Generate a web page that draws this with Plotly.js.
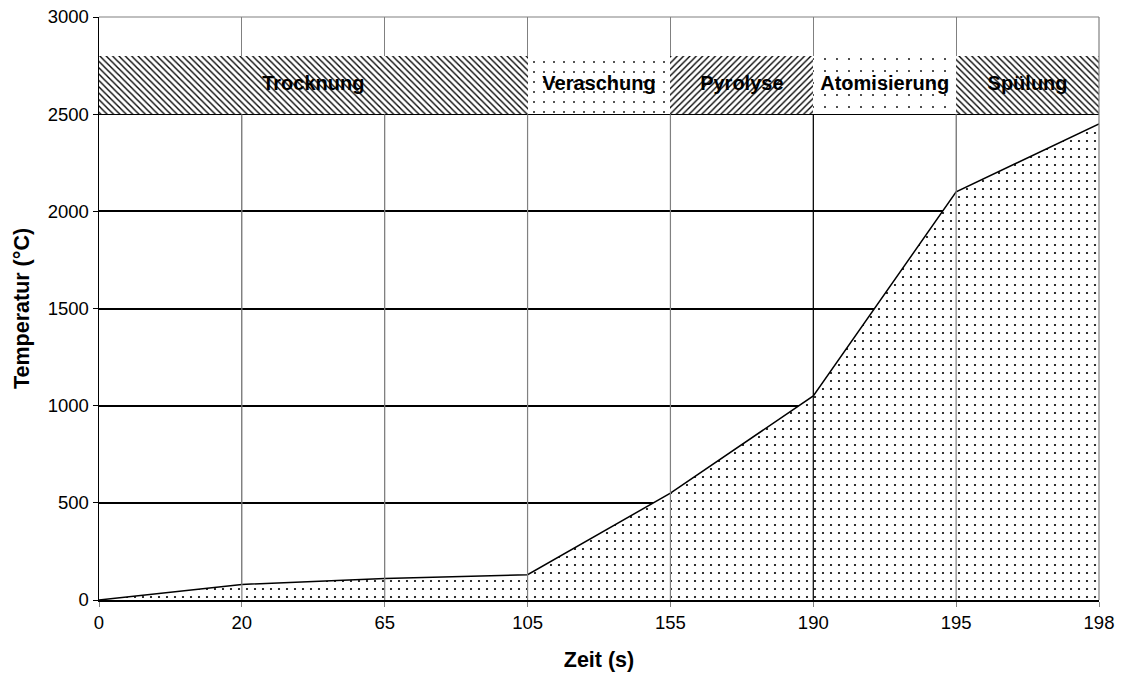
<!DOCTYPE html>
<html>
<head>
<meta charset="utf-8">
<script src="https://cdn.plot.ly/plotly-3.0.1.min.js"></script>
<style>
  html, body { margin: 0; padding: 0; background: #fff; }
  #chart { width: 1122px; height: 676px; }
</style>
</head>
<body>
<div id="chart"></div>
<script>
// Zeitpunkte des Temperaturprogramms (gleichabständige Kategorien)
const zeitLabels = ['0', '20', '65', '105', '155', '190', '195', '198'];
// Ofentemperatur in °C zu jedem Zeitpunkt
const temperatur = [0, 80, 110, 130, 550, 1050, 2100, 2450];

// Programmphasen: Name, erster und letzter Zeitpunkt (Index in zeitLabels)
const phasen = ['Trocknung', 'Veraschung', 'Pyrolyse', 'Atomisierung', 'Spülung'];
const phaseStart = [0, 3, 4, 5, 6];
const phaseEnde = [3, 4, 5, 6, 7];
const bandUnten = 2500;
const bandOben = 2800;

const idx = zeitLabels.map((_, i) => i);
const phaseMitte = phasen.map((_, i) => (phaseStart[i] + phaseEnde[i]) / 2);
const phaseBreite = phasen.map((_, i) => phaseEnde[i] - phaseStart[i]);

const fontFam = 'Arial, "Liberation Sans", Helvetica, sans-serif';

const temperaturKurve = {
  type: 'scatter',
  mode: 'lines',
  x: idx,
  y: temperatur,
  fill: 'tozeroy',
  fillcolor: '#ffffff',
  fillpattern: { shape: '.', fgcolor: '#000000', bgcolor: '#ffffff', size: 8, solidity: 0.06 },
  line: { color: '#000000', width: 1.5 },
  hoverinfo: 'skip',
  showlegend: false
};

const musterForm = ['\\', '.', '/', '.', '\\'];
const musterGroesse = [4.5, 10, 4.5, 12, 4.5];
const musterDichte = [0.3, 0.025, 0.3, 0.018, 0.3];

const phasenBalken = {
  type: 'bar',
  x: phaseMitte,
  width: phaseBreite,
  base: phasen.map(() => bandUnten),
  y: phasen.map(() => bandOben - bandUnten),
  marker: {
    color: '#ffffff',
    line: { width: 0 },
    pattern: { shape: musterForm, fgcolor: '#000000', bgcolor: '#ffffff', size: musterGroesse, solidity: musterDichte }
  },
  hoverinfo: 'skip',
  showlegend: false
};

const phasenText = {
  type: 'scatter',
  mode: 'text',
  x: phaseMitte,
  y: phasen.map(() => (bandUnten + bandOben) / 2),
  text: phasen,
  textposition: 'middle center',
  textfont: { family: fontFam, size: 20, color: '#000000', weight: 'bold' },
  hoverinfo: 'skip',
  showlegend: false
};

// senkrechte Linien an jedem Zeitpunkt unterhalb der Phasenbänder
const senkrechte = idx.slice(1, -1).map(i => ({
  type: 'line', xref: 'x', yref: 'y', layer: 'above',
  x0: i, x1: i, y0: 0, y1: bandUnten,
  line: { color: zeitLabels[i] === '190' ? '#000000' : '#808080', width: 1.2 }
}));

const rahmen = [
  { type: 'line', xref: 'paper', yref: 'paper', x0: 0, x1: 1, y0: 1, y1: 1, layer: 'above',
    line: { color: '#808080', width: 1.2 } },
  { type: 'line', xref: 'paper', yref: 'paper', x0: 1, x1: 1, y0: 0, y1: 1, layer: 'above',
    line: { color: '#808080', width: 1.2 } }
];

const layout = {
  width: 1122,
  height: 676,
  margin: { l: 99, r: 23, t: 17, b: 76 },
  paper_bgcolor: '#ffffff',
  plot_bgcolor: '#ffffff',
  font: { family: fontFam, size: 18.5, color: '#000000' },
  bargap: 0,
  xaxis: {
    range: [0, zeitLabels.length - 1],
    tickmode: 'array',
    tickvals: idx,
    ticktext: zeitLabels,
    showgrid: true,
    gridcolor: '#808080',
    gridwidth: 1.2,
    zeroline: false,
    showline: true,
    linecolor: '#000000',
    linewidth: 1.5,
    ticks: 'outside',
    ticklen: 5,
    tickcolor: '#808080',
    tickfont: { family: fontFam, size: 18.5, color: '#000000' },
    title: { text: 'Zeit (s)', font: { family: fontFam, size: 21.5, color: '#000000', weight: 'bold' }, standoff: 20 },
    fixedrange: true
  },
  yaxis: {
    range: [0, 3000],
    tickmode: 'array',
    tickvals: [0, 500, 1000, 1500, 2000, 2500, 3000],
    showgrid: true,
    gridcolor: '#000000',
    gridwidth: 2,
    zeroline: false,
    showline: true,
    linecolor: '#000000',
    linewidth: 1.5,
    ticks: 'outside',
    ticklen: 5,
    tickcolor: '#000000',
    tickfont: { family: fontFam, size: 18.5, color: '#000000' },
    title: { text: 'Temperatur (°C)', font: { family: fontFam, size: 21.5, color: '#000000', weight: 'bold' }, standoff: 12 },
    fixedrange: true
  },
  shapes: senkrechte.concat(rahmen),
  showlegend: false
};

Plotly.newPlot('chart', [temperaturKurve, phasenBalken, phasenText], layout, { displayModeBar: false, staticPlot: true });
</script>
</body>
</html>
